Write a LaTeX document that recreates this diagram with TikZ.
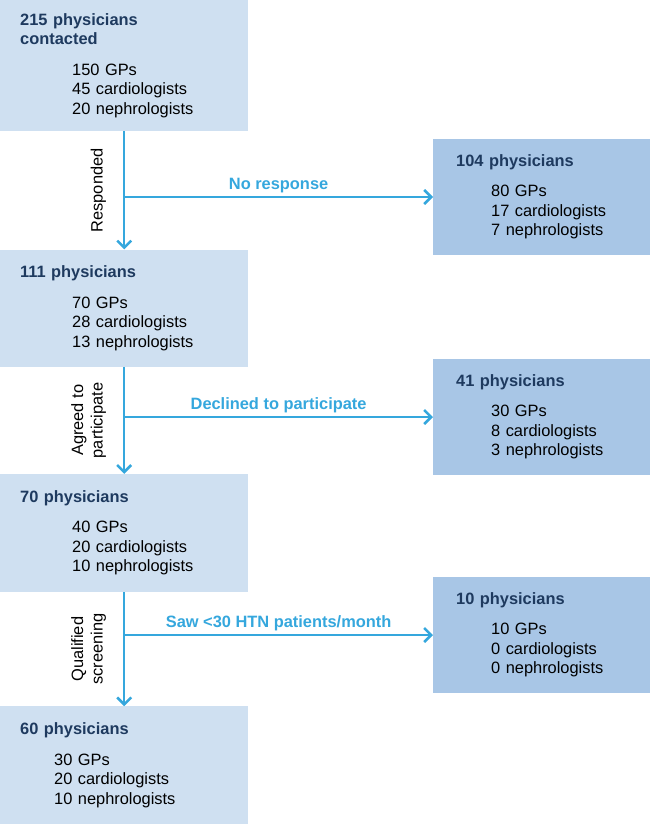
\documentclass[tikz,border=0pt]{standalone}
\usepackage{fontspec}
\setmainfont{Liberation Sans}
\usetikzlibrary{positioning,arrows.meta}
\definecolor{paleblue}{RGB}{207,224,241}
\definecolor{midblue}{RGB}{168,198,230}
\definecolor{navy}{RGB}{30,58,95}
\definecolor{flowblue}{RGB}{53,167,221}
\newcommand{\bycat}[4]{\hspace*{#1}#2\\\hspace*{#1}#3\\\hspace*{#1}#4}
\tikzstyle{L} = [rectangle,
			fill=paleblue,
			text width=208pt, align=left,
			inner xsep=20pt, inner ysep=0pt, minimum height=117pt]
\tikzstyle{R} = [rectangle,
			fill=midblue,
			text width=171pt, align=left,
			inner xsep=23pt, inner ysep=0pt, minimum height=116pt]
\tikzstyle{A} = [draw=flowblue, line width=2.5pt,
			-{Straight Barb[length=7pt,width=14pt]}]
\tikzstyle{V} = [midway, rotate=90, anchor=south, align=center,
			inner xsep=0pt, inner ysep=17pt]
\tikzstyle{H} = [midway, above, text=flowblue,
			font=\fontsize{16.4}{19.5}\selectfont\bfseries]

\begin{document}
\begin{tikzpicture}[font=\fontsize{16.4}{19.5}\selectfont]

\useasboundingbox (0,0) rectangle (650pt,-825pt);

\node [L, minimum height=131pt, anchor=north west]
(contacted) at (0,0)
	{{\bfseries\color{navy}215 physicians\\contacted}\\[11pt]
	\bycat{52pt}{150 GPs}{45 cardiologists}{20 nephrologists}};

\node [L, below=118pt of contacted]
(responded)
	{{\bfseries\color{navy}111 physicians}\\[11pt]
	\bycat{52pt}{70 GPs}{28 cardiologists}{13 nephrologists}};

\node [L, below=107pt of responded, minimum height=118pt]
(agreed)
	{{\bfseries\color{navy}70 physicians}\\[11pt]
	\bycat{52pt}{40 GPs}{20 cardiologists}{10 nephrologists}};

\node [L, below=114pt of agreed, minimum height=118pt]
(qualified)
	{{\bfseries\color{navy}60 physicians}\\[11pt]
	\bycat{34pt}{30 GPs}{20 cardiologists}{10 nephrologists}};

\node [R, anchor=west]
(noresp) at (433pt,-197pt)
	{{\bfseries\color{navy}104 physicians}\\[11pt]
	\bycat{35pt}{80 GPs}{17 cardiologists}{7 nephrologists}};

\node [R, anchor=west]
(declined) at (433pt,-417pt)
	{{\bfseries\color{navy}41 physicians}\\[11pt]
	\bycat{35pt}{30 GPs}{8 cardiologists}{3 nephrologists}};

\node [R, anchor=west]
(lowvol) at (433pt,-635pt)
	{{\bfseries\color{navy}10 physicians}\\[11pt]
	\bycat{35pt}{10 GPs}{0 cardiologists}{0 nephrologists}};

\path[A] (contacted) -- node [V] {Responded} (responded);

\path[A] (contacted.south |- noresp) -- node [H] {No response} (noresp);

\path[A] (responded) -- node [V] {Agreed to\\participate} (agreed);

\path[A] (responded.south |- declined) -- node [H] {Declined to participate} (declined);

\path[A] (agreed) -- node [V] {Qualified\\screening} (qualified);

\path[A] (agreed.south |- lowvol) -- node [H] {Saw <30 HTN patients/month} (lowvol);

\end{tikzpicture}
\end{document}
